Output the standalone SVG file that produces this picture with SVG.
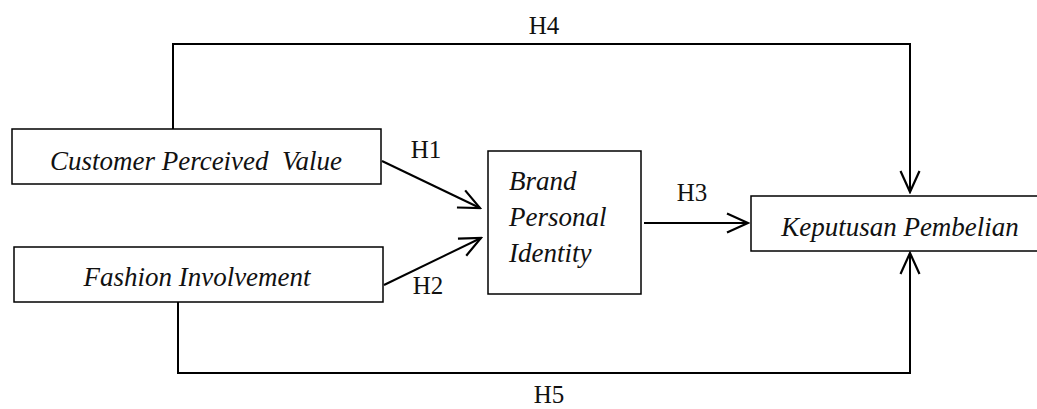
<svg xmlns="http://www.w3.org/2000/svg" width="1037" height="409" viewBox="0 0 1037 409">
<defs>
<style>
.box{fill:#fff;stroke:#000;stroke-width:1.5}
.lbl{font-family:"Liberation Serif","DejaVu Serif",serif;font-style:italic;font-size:27px;fill:#111}
.h{font-family:"Liberation Serif","DejaVu Serif",serif;font-size:25px;fill:#111}
.ln{fill:none;stroke:#000;stroke-width:2}
</style>
<marker id="arr" viewBox="0 0 26 22" refX="24" refY="11" markerWidth="26" markerHeight="22" markerUnits="userSpaceOnUse" orient="auto">
<path d="M3,1.5 L24,11 L3,20.5" fill="none" stroke="#000" stroke-width="2.2"/>
</marker>
</defs>
<rect width="1037" height="409" fill="#fff"/>
<g id="connectors">
<path class="ln" d="M173,129 V44 H910 V192" marker-end="url(#arr)"/>
<path class="ln" d="M178,302 V373 H910 V253" marker-end="url(#arr)"/>
<path class="ln" d="M382,161 L480,208" marker-end="url(#arr)"/>
<path class="ln" d="M384,285 L481,238" marker-end="url(#arr)"/>
<path class="ln" d="M644,223 L748,223" marker-end="url(#arr)"/>
<text class="h" x="544" y="34" text-anchor="middle">H4</text>
<text class="h" x="426" y="158" text-anchor="middle">H1</text>
<text class="h" x="428" y="294" text-anchor="middle">H2</text>
<text class="h" x="692" y="201" text-anchor="middle">H3</text>
<text class="h" x="549" y="403" text-anchor="middle">H5</text>
</g>
<g id="cpv">
<rect class="box" x="12" y="129" width="369" height="55"/>
<text class="lbl" x="196" y="170" text-anchor="middle" xml:space="preserve">Customer Perceived  Value</text>
</g>
<g id="fi">
<rect class="box" x="14" y="247" width="369" height="55"/>
<text class="lbl" x="197" y="286" text-anchor="middle">Fashion Involvement</text>
</g>
<g id="bpi">
<rect class="box" x="488" y="151" width="153" height="143"/>
<text class="lbl" x="509" y="190">Brand</text>
<text class="lbl" x="509" y="226">Personal</text>
<text class="lbl" x="509" y="262">Identity</text>
</g>
<g id="kp">
<rect class="box" x="751" y="196" width="300" height="55"/>
<text class="lbl" x="900" y="236" text-anchor="middle">Keputusan Pembelian</text>
</g>
</svg>
